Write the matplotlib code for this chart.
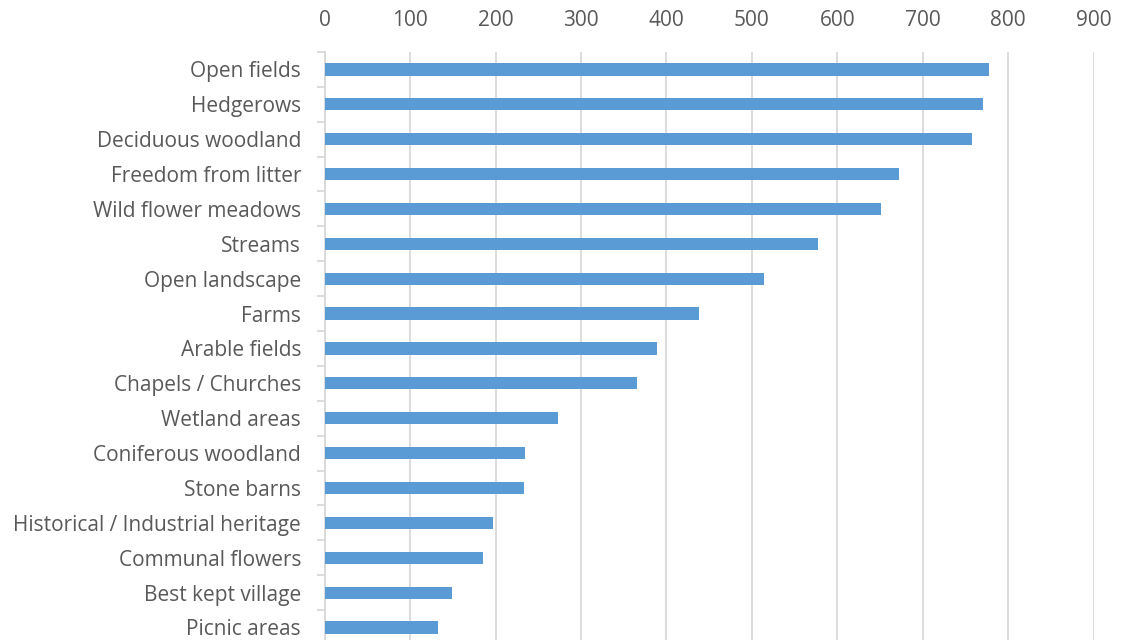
import matplotlib.pyplot as plt
import numpy as np

# Feature names and their scores (top to bottom)
features = ["Open fields", "Hedgerows", "Deciduous woodland", "Freedom from litter",
            "Wild flower meadows", "Streams", "Open landscape", "Farms",
            "Arable fields", "Chapels / Churches", "Wetland areas",
            "Coniferous woodland", "Stone barns", "Historical / Industrial heritage",
            "Communal flowers", "Best kept village", "Picnic areas"]
scores = [778, 770, 758, 672, 651, 577, 514, 438, 389, 366, 273, 234, 233, 197, 185, 149, 133]
x_ticks = [0, 100, 200, 300, 400, 500, 600, 700, 800, 900]

plt.rcParams['font.family'] = ['Open Sans', 'DejaVu Sans']

fig = plt.figure(figsize=(11.24, 6.4), dpi=100)
ax = fig.add_axes([0.2889, -0.0077, 0.6841, 0.9265])

y = np.arange(len(features))
ax.barh(y, scores, height=0.35, color="#5B9BD5", zorder=3)
ax.set_ylim(len(features) - 0.5, -0.5)
ax.set_xlim(0, 900)

# Axis on top, gridlines vertical
ax.xaxis.tick_top()
ax.set_xticks(x_ticks)
ax.grid(axis='x', color="#D9D9D9", linewidth=1.3, zorder=0)
ax.tick_params(axis='x', length=0, pad=15, labelsize=15, labelcolor="#595959")

ax.set_yticks(y)
ax.set_yticklabels(features)
ax.set_yticks(np.arange(len(features) + 1) - 0.5, minor=True)
ax.tick_params(axis='y', which='major', length=0, pad=17, labelsize=15, labelcolor="#595959")
ax.tick_params(axis='y', which='minor', length=6, color="#D9D9D9", width=1.3)

for side in ['top', 'right', 'bottom']:
    ax.spines[side].set_visible(False)
ax.spines['left'].set_color("#D9D9D9")
ax.spines['left'].set_linewidth(1.3)

plt.savefig("out.png", dpi=100)
